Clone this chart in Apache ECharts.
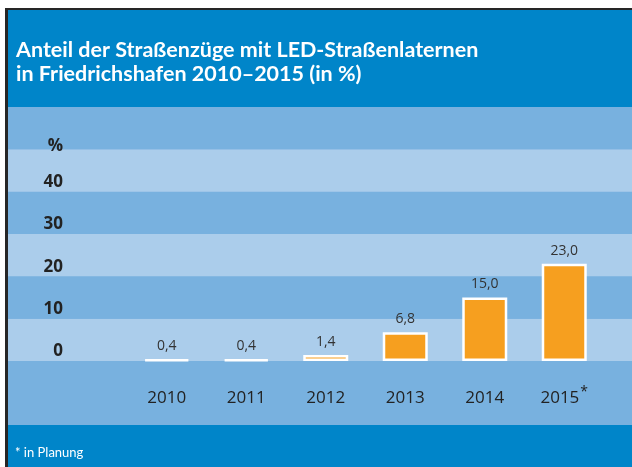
<!DOCTYPE html>
<html lang="de">
<head>
    <meta charset="UTF-8">
    <title>LED-Straßenlaternen</title>
    <script src="https://cdn.jsdelivr.net/npm/echarts@6/dist/echarts.min.js"></script>
    <style>
        html, body { margin: 0; padding: 0; background: #fff; }
    </style>
</head>
<body>
<div id="main" style="width:632px;height:467px"></div>
<script>
    // Daten
    var jahre = ['2010', '2011', '2012', '2013', '2014', '2015'];
    var anteil = [0.4, 0.4, 1.4, 6.8, 15.0, 23.0];
    var yTicks = [0, 10, 20, 30, 40, 50, 60];

    var dunkelblau = '#0085c9';
    var streifenDunkel = '#78b1df';
    var streifenHell = '#abcdeb';
    var orange = '#f69f1f';

    var myChart = echarts.init(document.getElementById('main'));

    myChart.setOption({
        backgroundColor: '#ffffff',
        animation: false,
        title: [{
            text: 'Anteil der Straßenzüge mit LED-Straßenlaternen\nin Friedrichshafen 2010–2015 (in %)',
            left: 16,
            top: 38,
            padding: 0,
            textStyle: {
                color: '#fff',
                fontFamily: 'Lato',
                fontWeight: 'bold',
                fontSize: 21.5,
                lineHeight: 24
            }
        }, {
            text: '* in Planung',
            left: 15,
            top: 446,
            padding: 0,
            textStyle: {
                color: '#fff',
                fontFamily: 'Lato',
                fontWeight: 'normal',
                fontSize: 13,
                lineHeight: 14
            }
        }],
        graphic: [
            // Rahmen und Flächen
            { type: 'rect', z: -10, shape: { x: 5, y: 8, width: 627, height: 459 }, style: { fill: '#262626' } },
            { type: 'rect', z: -9, shape: { x: 8, y: 10, width: 624, height: 457 }, style: { fill: dunkelblau } },
            { type: 'rect', z: -9, shape: { x: 8, y: 107, width: 624, height: 318 }, style: { fill: streifenDunkel } }
        ],
        grid: [
            { left: 127, right: 28, top: 107, bottom: 106 },
            { left: 8, right: 0, top: 107, bottom: 106 }
        ],
        xAxis: [{
            type: 'category',
            gridIndex: 0,
            data: jahre,
            axisLine: { show: false },
            axisTick: { show: false },
            axisLabel: {
                interval: 0,
                margin: 24,
                color: '#222',
                fontFamily: 'Open Sans',
                fontSize: 17,
                lineHeight: 26,
                formatter: function (v) {
                    return v === '2015' ? '{j|' + v + '}{sup|*}' : '{j|' + v + '}';
                },
                rich: {
                    j: { color: '#222', fontFamily: 'Open Sans', fontSize: 17, lineHeight: 26 },
                    sup: { color: '#222', fontFamily: 'Open Sans', fontSize: 14, lineHeight: 13, verticalAlign: 'top', padding: [0, 0, 0, 1] }
                }
            }
        }, {
            type: 'value',
            gridIndex: 1,
            show: false
        }],
        yAxis: [{
            type: 'value',
            gridIndex: 0,
            min: 0,
            max: 60,
            interval: 10,
            splitLine: { show: false },
            axisLine: { show: false },
            axisTick: { show: false },
            axisLabel: {
                margin: 64,
                align: 'right',
                verticalAlign: 'bottom',
                padding: [0, 0, 1, 0],
                color: '#222',
                fontFamily: 'Open Sans',
                fontWeight: 'bold',
                fontSize: 17,
                formatter: function (v) {
                    if (v === 60) return '';
                    if (v === 50) return '{p|%}';
                    return String(v);
                },
                rich: {
                    p: { color: '#222', fontFamily: 'Open Sans', fontWeight: 'bold', fontSize: 17, padding: [0, 0, -6, 0] }
                }
            }
        }, {
            type: 'value',
            gridIndex: 1,
            min: 0,
            max: 60,
            interval: 10,
            axisLine: { show: false },
            axisTick: { show: false },
            axisLabel: { show: false },
            splitLine: { show: false },
            splitArea: {
                show: true,
                areaStyle: { color: [streifenHell, streifenDunkel] }
            }
        }],
        series: [{
            type: 'bar',
            xAxisIndex: 0,
            yAxisIndex: 0,
            data: anteil,
            barWidth: 45,
            z: 5,
            itemStyle: {
                color: orange,
                borderColor: '#fff',
                borderWidth: 2.5
            },
            label: {
                show: true,
                position: 'top',
                distance: 6,
                color: '#333',
                fontFamily: 'Open Sans',
                fontSize: 14,
                formatter: function (p) {
                    return p.value.toFixed(1).replace('.', ',');
                }
            }
        }]
    });
</script>
</body>
</html>
